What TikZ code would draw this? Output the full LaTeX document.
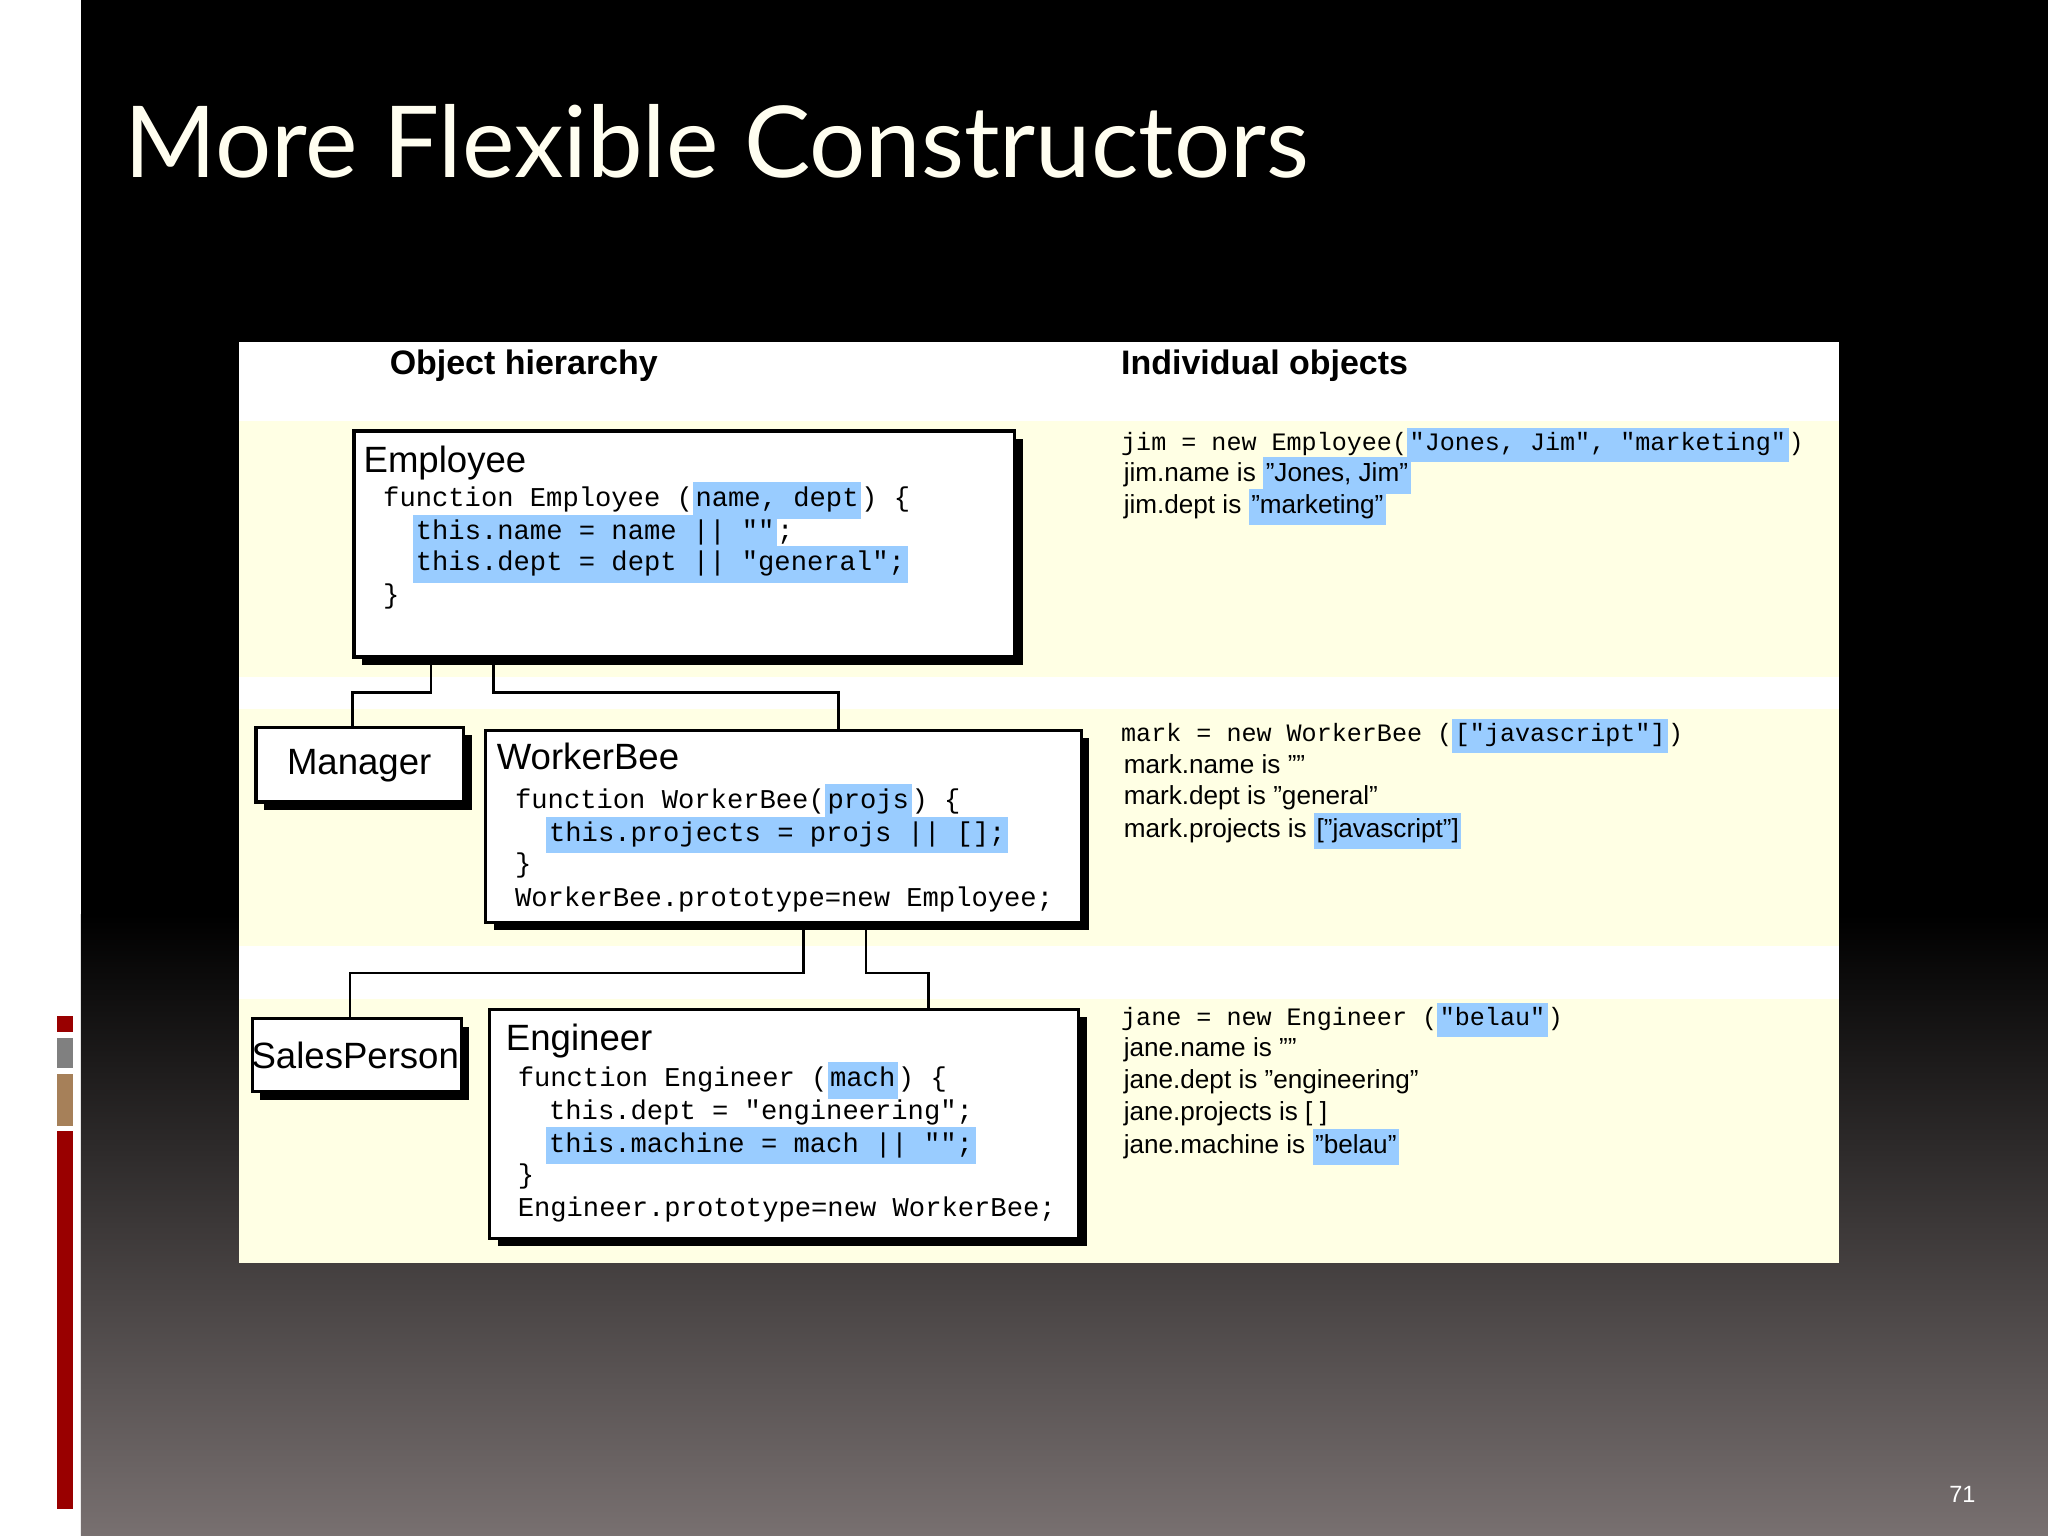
\documentclass[tikz,border=0pt]{standalone}
\usepackage{fontspec}
\setmainfont{Liberation Sans}
\newfontfamily\titlefont{Lato}
\newfontfamily\codefont{Liberation Mono}
\definecolor{hlblue}{HTML}{99CCFF}
\definecolor{bandy}{HTML}{FFFFE4}
\definecolor{bggray}{HTML}{787070}
\newcommand{\hl}[1]{{\setlength\fboxsep{1pt}\colorbox{hlblue}{\strut #1}}}
\tikzset{
  code/.style={anchor=base west, inner sep=0pt, font=\codefont\fontsize{10.4}{12}\selectfont},
  rcode/.style={anchor=base west, inner sep=0pt, font=\codefont\fontsize{9.6}{11}\selectfont},
  rtxt/.style={anchor=base west, inner sep=0pt, font=\fontsize{10}{12}\selectfont},
  btitle/.style={anchor=base west, inner sep=0pt, font=\fontsize{14}{16}\selectfont},
  cls/.style={draw=black, line width=1.2pt, fill=white},
  shadow/.style={fill=black},
  conn/.style={draw=black, line width=1pt},
  hdr/.style={anchor=base west, inner sep=0pt, font=\bfseries\fontsize{13}{15}\selectfont}
}
\begin{document}
\begin{tikzpicture}[x=0.5pt,y=-0.5pt]
\useasboundingbox (0,0) rectangle (1568,1176);
% background
\fill[white] (0,0) rectangle (62,1176);
\fill[black] (62,0) rectangle (1568,700);
\shade[top color=black,bottom color=bggray] (62,700) rectangle (1568,1176);
% left deco
\foreach \yy in {118,124,...,178} \fill[white] (38,\yy) rectangle (62,\yy+3);
\fill[red!60!black] (44,778) rectangle (56,790);
\fill[gray] (44,795) rectangle (56,818);
\fill[brown!60!gray] (44,822) rectangle (56,862);
\fill[red!60!black] (44,866) rectangle (56,1155);
% title
\node[anchor=base west, inner sep=0pt, text=white!94!yellow, font=\titlefont\fontsize{38}{40}\selectfont] (title) at (95,136) {More Flexible Constructors};
\node[anchor=base west, inner sep=0pt, text=white, font=\fontsize{9}{10}\selectfont] (pnum) at (1492,1150) {71};
% panel
\fill[white] (183,262) rectangle (1408,967);
\fill[bandy] (183,322) rectangle (1408,518);
\fill[bandy] (183,543) rectangle (1408,724);
\fill[bandy] (183,765) rectangle (1408,967);
\node[hdr] (h1) at (298,287) {Object hierarchy};
\node[hdr] (h2) at (858,287) {Individual objects};
% connectors
\coordinate (c1) at (330,503); \coordinate (c2) at (378,503);
\coordinate (c3) at (615,706); \coordinate (c4) at (663,706);
\draw[conn] (c1) -- (330,530) -| (270,557);
\draw[conn] (c2) -- (378,530) -| (642,559);
\draw[conn] (c3) -- (615,745) -| (268,780);
\draw[conn] (c4) -- (663,745) -| (711,773);
% boxes
\fill[shadow] (277,336) rectangle (783,509);
\draw[cls] (271,330) rectangle (777,503);
\fill[shadow] (202,563) rectangle (361,620);
\draw[cls] (196,557) rectangle (355,614);
\fill[shadow] (378,565) rectangle (834,712);
\draw[cls] (372,559) rectangle (828,706);
\fill[shadow] (199,786) rectangle (359,842);
\draw[cls] (193,780) rectangle (353,836);
\fill[shadow] (381,779) rectangle (832,954);
\draw[cls] (375,773) rectangle (826,948);
% Employee
\node[btitle] (et) at (278,362) {Employee};
\node[code] (e1) at (293,388) {function Employee (\hl{name, dept}) \{};
\node[code] (e2) at (316,413) {\hl{this.name = name || ""};};
\node[code] (e3) at (316,437) {\hl{this.dept = dept || "general";}};
\node[code] (e4) at (293,462) {\}};
% Manager
\node[font=\fontsize{14}{16}\selectfont] (mgr) at (275,586) {Manager};
\node[font=\fontsize{14}{16}\selectfont] (sp) at (272,808) {SalesPerson};
% WorkerBee
\node[btitle] (wt) at (380,589) {WorkerBee};
\node[code] (w1) at (394,619) {function WorkerBee(\hl{projs}) \{};
\node[code] (w2) at (418,644) {\hl{this.projects = projs || [];}};
\node[code] (w3) at (394,668) {\}};
\node[code] (w4) at (394,694) {WorkerBee.prototype=new Employee;};
% Engineer
\node[btitle] (gt) at (387,804) {Engineer};
\node[code] (g1) at (396,832) {function Engineer (\hl{mach}) \{};
\node[code] (g2) at (420,857) {this.dept = "engineering";};
\node[code] (g3) at (418,882) {\hl{this.machine = mach || "";}};
\node[code] (g4) at (396,906) {\}};
\node[code] (g5) at (396,931) {Engineer.prototype=new WorkerBee;};
% right side
\node[rcode] (j1) at (858,345) {jim = new Employee(\hl{"Jones, Jim", "marketing"})};
\node[rtxt] (j2) at (860,369) {jim.name is \hl{"Jones, Jim"}};
\node[rtxt] (j3) at (860,393) {jim.dept is \hl{"marketing"}};
\node[rcode] (m1) at (858,568) {mark = new WorkerBee (\hl{["javascript"]})};
\node[rtxt] (m2) at (860,592) {mark.name is ""};
\node[rtxt] (m3) at (860,616) {mark.dept is "general"};
\node[rtxt] (m4) at (860,641) {mark.projects is \hl{["javascript"]}};
\node[rcode] (n1) at (858,785) {jane = new Engineer (\hl{"belau"})};
\node[rtxt] (n2) at (860,809) {jane.name is ""};
\node[rtxt] (n3) at (860,833) {jane.dept is "engineering"};
\node[rtxt] (n4) at (860,858) {jane.projects is [ ]};
\node[rtxt] (n5) at (860,883) {jane.machine is \hl{"belau"}};
\end{tikzpicture}
\end{document}
